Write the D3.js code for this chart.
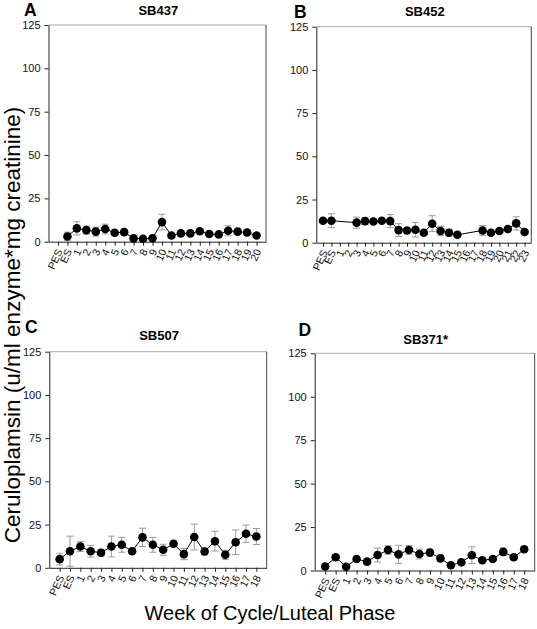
<!DOCTYPE html>
<html>
<head>
<meta charset="utf-8">
<script src="https://cdn.jsdelivr.net/npm/d3@7"></script>
<style>
  html, body { margin: 0; padding: 0; background: #fff; }
  svg { display: block; font-family: Arial, "Liberation Sans", sans-serif; }
</style>
</head>
<body>
<svg id="chart" width="537" height="629"></svg>
<script>
// ---- Data ----
const weeks = n => ["PES", "ES"].concat(d3.range(1, n + 1).map(String));

const catsA = weeks(20);
const valsA = [null, 3, 7.7, 6.7, 5.8, 7.3, 5.2, 5.5, 1.9, 1.7, 2, 11.3, 3.6, 4.8, 4.8, 6, 4.4, 4.2, 6.3, 5.8, 5.3, 3.6];
const errA  = [null, 2.5, 3.8, 2.3, 2.6, 2.8, 0.5, 1.7, 0.5, 0.4, 0.5, 4.5, 0.8, 0.8, 1, 1, 0.6, 0.6, 2.9, 0.8, 0.8, 1];

const catsB = weeks(23);
const valsB = [12.7, 12.7, null, null, 11.6, 12.5, 12.3, 12.7, 12.5, 7.3, 7.1, 7.5, 5.8, 11, 6.8, 5.8, 4.6, null, null, 7.1, 5.8, 6.8, 7.9, 11.2, 6.2];
const errB  = [1, 4, null, null, 3.2, 2, 1, 1, 3.8, 3.7, 1, 4.2, 1, 4.6, 2.7, 2, 1, null, null, 2.8, 1, 1, 1, 3.8, 1];

const catsC = weeks(18);
const valsC = [5, 9.6, 12.3, 9.6, 8.7, 12.3, 13.3, 9.6, 17.6, 13.3, 10.4, 13.9, 7.9, 17.8, 9.4, 15.4, 7.5, 14.8, 19.7, 18.1];
const errC  = [3.4, 8.7, 2.8, 3.4, 2, 6, 4.3, 1, 5.3, 4.3, 3.2, 1.5, 3.2, 7.5, 2, 5.7, 2.6, 7.1, 5, 4.6];

const catsD = weeks(18);
const valsD = [2.3, 7.6, 2.2, 6.6, 5.1, 8.9, 11.8, 9.3, 11.8, 9.5, 10.3, 7.0, 3.0, 4.7, 8.8, 5.9, 6.6, 10.7, 7.6, 12.2];
const errD  = [0.5, 1.5, 0.5, 0.8, 0.8, 4, 2.4, 5.2, 2.5, 2.8, 2, 1.8, 0.5, 0.8, 4.8, 0.8, 1, 2.2, 1, 1.5];

const yTicks = [0, 25, 50, 75, 100, 125];
const titles = ["SB437", "SB452", "SB507", "SB371*"];
const letters = ["A", "B", "C", "D"];
const yLabel = "Ceruloplamsin (u/ml enzyme*mg creatinine)";
const xLabel = "Week of Cycle/Luteal Phase";

// ---- Layout ----
const panels = [
  { cats: catsA, vals: valsA, errs: errA, left: 48.5, right: 266, top: 25, bottom: 241.7, pad: 1, lx: 24, ly: 16, ty: 15 },
  { cats: catsB, vals: valsB, errs: errB, left: 316.3, right: 531.3, top: 26.7, bottom: 242.7, pad: 0.8, lx: 294, ly: 17.5, ty: 16 },
  { cats: catsC, vals: valsC, errs: errC, left: 49.3, right: 266.7, top: 351.7, bottom: 567.8, pad: 1, lx: 25, ly: 333, ty: 340 },
  { cats: catsD, vals: valsD, errs: errD, left: 314.7, right: 534.7, top: 353.3, bottom: 570.5, pad: 1, lx: 298.5, ly: 336, ty: 343.5 }
];

const svg = d3.select("#chart");

panels.forEach((p, i) => {
  const x = d3.scalePoint().domain(p.cats).range([p.left, p.right]).padding(p.pad);
  const y = d3.scaleLinear().domain([0, 125]).range([p.bottom, p.top]);
  const g = svg.append("g");

  // frame top & right
  g.append("line").attr("x1", p.left).attr("x2", p.right).attr("y1", p.top).attr("y2", p.top)
    .attr("stroke", "#aaa").attr("stroke-width", 1);
  g.append("line").attr("x1", p.right).attr("x2", p.right).attr("y1", p.top).attr("y2", p.bottom)
    .attr("stroke", "#444").attr("stroke-width", 1);

  // y axis
  const ya = g.append("g").attr("transform", `translate(${p.left},0)`)
    .call(d3.axisLeft(y).tickValues(yTicks).tickSize(4).tickSizeOuter(0).tickPadding(4));
  ya.selectAll("text").attr("font-size", 11).attr("font-family", "Arial, 'Liberation Sans', sans-serif").attr("fill", "#111");
  ya.select(".domain").attr("stroke", "#222");
  ya.selectAll(".tick line").attr("stroke", "#222");

  // x axis
  const xa = g.append("g").attr("transform", `translate(0,${p.bottom})`)
    .call(d3.axisBottom(x).tickSize(4).tickSizeOuter(0));
  xa.select(".domain").attr("stroke", "#222");
  xa.selectAll(".tick line").attr("stroke", "#222");
  xa.selectAll("text")
    .attr("font-size", 10.5)
    .attr("font-family", "Arial, 'Liberation Sans', sans-serif")
    .attr("fill", "#111")
    .attr("text-anchor", "end")
    .attr("x", 0).attr("y", 0).attr("dy", "0.35em")
    .attr("transform", "translate(1,8) rotate(-65)");

  const pts = p.cats.map((c, j) => ({ c, v: p.vals[j], e: p.errs[j] })).filter(d => d.v != null);

  // error bars
  const eb = g.append("g").attr("stroke", "#9a9a9a").attr("stroke-width", 1);
  pts.forEach(d => {
    const cx = x(d.c), y1 = y(d.v + d.e), y2 = y(Math.max(0, d.v - d.e));
    eb.append("line").attr("x1", cx).attr("x2", cx).attr("y1", y1).attr("y2", y2);
    eb.append("line").attr("x1", cx - 3.5).attr("x2", cx + 3.5).attr("y1", y1).attr("y2", y1);
    eb.append("line").attr("x1", cx - 3.5).attr("x2", cx + 3.5).attr("y1", y2).attr("y2", y2);
  });

  // line
  g.append("path").datum(pts)
    .attr("d", d3.line().x(d => x(d.c)).y(d => y(d.v)))
    .attr("fill", "none").attr("stroke", "#000").attr("stroke-width", 1);

  // points
  g.selectAll("circle.pt").data(pts).enter().append("circle")
    .attr("cx", d => x(d.c)).attr("cy", d => y(d.v)).attr("r", 4.3).attr("fill", "#000");

  // title
  g.append("text").attr("x", (p.left + p.right) / 2 + 1).attr("y", p.ty)
    .attr("text-anchor", "middle").attr("font-weight", "bold").attr("font-size", 13)
    .text(titles[i]);
  // panel letter
  g.append("text").attr("x", p.lx).attr("y", p.ly)
    .attr("font-weight", "bold").attr("font-size", 17.5)
    .text(letters[i]);
});

// axis labels
svg.append("text")
  .attr("transform", "translate(20,325) rotate(-90)")
  .attr("text-anchor", "middle").attr("font-size", 22.5)
  .text(yLabel);
svg.append("text")
  .attr("x", 270).attr("y", 620)
  .attr("text-anchor", "middle").attr("font-size", 20)
  .text(xLabel);
</script>
</body>
</html>
